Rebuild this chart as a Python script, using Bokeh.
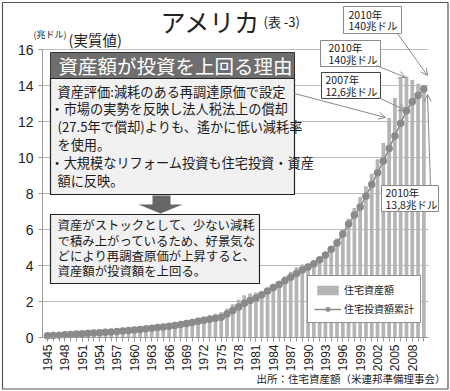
import math
from bokeh.plotting import figure
from bokeh.models import (Range1d, FixedTicker, LinearAxis, Arrow, OpenHead,
                          Legend, LegendItem)
from bokeh.core.properties import value
from bokeh.embed import file_html
from bokeh.resources import INLINE

# ---------------- data ----------------
years = list(range(1945, 2011))
asset = [0.17, 0.19, 0.21, 0.23, 0.25, 0.27, 0.29, 0.31, 0.33, 0.35,
         0.38, 0.41, 0.44, 0.47, 0.50, 0.53, 0.56, 0.60, 0.64, 0.68,
         0.72, 0.77, 0.82, 0.88, 0.94, 1.00, 1.07, 1.15, 1.24, 1.32,
         1.40, 1.60, 1.85, 2.10, 2.35, 2.45, 2.50, 2.55, 2.70, 2.90,
         3.15, 3.40, 3.65, 3.90, 4.05, 4.10, 4.15, 4.35, 4.65, 5.00,
         5.50, 6.00, 6.60, 7.20, 7.80, 8.40, 9.10, 9.90, 10.80, 12.20,
         13.30, 14.40, 14.50, 14.30, 14.10, 14.00]
invest = [0.10, 0.11, 0.13, 0.15, 0.17, 0.19, 0.21, 0.23, 0.25, 0.27,
          0.29, 0.31, 0.33, 0.36, 0.39, 0.42, 0.45, 0.48, 0.51, 0.55,
          0.59, 0.63, 0.67, 0.72, 0.78, 0.84, 0.90, 0.96, 1.02, 1.07,
          1.12, 1.30, 1.50, 1.70, 1.90, 2.05, 2.20, 2.38, 2.58, 2.78,
          2.95, 3.15, 3.35, 3.55, 3.75, 3.92, 4.10, 4.32, 4.58, 4.90,
          5.25, 5.75, 6.30, 6.80, 7.25, 7.85, 8.50, 9.15, 9.80, 10.50,
          11.20, 11.90, 12.60, 13.10, 13.45, 13.80]
y_ticks = [0, 2, 4, 6, 8, 10, 12, 14, 16]
x_tick_years = list(range(1945, 2009, 3))

series_names = ["住宅資産額", "住宅投資額累計"]
title_text = "アメリカ"
title_sub = "(表 -3)"
unit_small = "(兆ドル)"
unit_big = "(実質値)"
header_text = "資産額が投資を上回る理由"
box1_lines = ["資産評価:減耗のある再調達原価で設定",
              "・市場の実勢を反映し法人税法上の償却",
              "(27.5年で償却)よりも、遙かに低い減耗率",
              "を使用。",
              "・大規模なリフォーム投資も住宅投資・資産",
              "額に反映。"]
box3_lines = ["資産がストックとして、少ない減耗",
              "で積み上がっているため、好景気な",
              "どにより再調査原価が上昇すると、",
              "資産額が投資額を上回る。"]
note_a = ["2010年", "140兆ドル"]
note_b = ["2010年", "140兆ドル"]
note_c = ["2007年", "12,6兆ドル"]
note_d = ["2010年", "13,8兆ドル"]
source_text = "出所：住宅資産額（米連邦準備理事会）"

# ---------------- geometry ----------------
W, H = 450, 391
PX0, PPY = 47.0, 5.79     # pixel of 1945, px per year
PY0, PPV = 337.0, 18.0    # pixel of 0, px per unit


def dx(rx):
    return 1945 + (rx - PX0) / PPY


def dy(ry):
    return (PY0 - ry) / PPV


def fs(px):
    return value("%.1fpx" % px)


JP = value("Noto Sans CJK JP")

p = figure(width=W, height=H, x_range=Range1d(dx(0), dx(W)),
           y_range=Range1d(dy(H), dy(0)), min_border=0,
           x_axis_type=None, y_axis_type=None,
           output_backend="svg", toolbar_location=None)
p.outline_line_color = None
p.background_fill_color = "white"
p.border_fill_color = "white"

# grid lines
p.segment(x0=dx(42), x1=dx(428), y0=y_ticks[1:], y1=y_ticks[1:],
          line_color="#bcbcbc", line_width=1)

# axes
yax = LinearAxis(fixed_location=dx(42), bounds=(0, 16),
                 ticker=FixedTicker(ticks=y_ticks, minor_ticks=[]))
yax.axis_line_color = "#999999"
yax.major_tick_line_color = "#999999"
yax.major_tick_out = 4
yax.major_tick_in = 0
yax.minor_tick_out = 0
yax.major_label_text_font = "Liberation Sans"
yax.major_label_text_font_size = "14px"
yax.major_label_text_color = "#222222"
yax.major_label_standoff = 5
p.add_layout(yax, "left")

xax = LinearAxis(fixed_location=0, bounds=(dx(42), dx(428)),
                 ticker=FixedTicker(ticks=x_tick_years, minor_ticks=years))
xax.axis_line_color = "#999999"
xax.major_tick_line_color = "#999999"
xax.minor_tick_line_color = "#999999"
xax.major_tick_out = 4
xax.major_tick_in = 0
xax.minor_tick_out = 4
xax.minor_tick_in = 0
xax.major_label_orientation = math.pi / 2
xax.major_label_text_font = "Liberation Sans"
xax.major_label_text_font_size = "12px"
xax.major_label_text_color = "#222222"
xax.major_label_standoff = 3
p.add_layout(xax, "below")

# data marks
bars = p.vbar(x=years, top=asset, width=0.64, fill_color="#b5b5b5",
              line_color=None)
ln = p.line(years, invest, line_color="#8a8a8a", line_width=1.5)
dots = p.scatter(years, invest, size=7.5, fill_color="#8a8a8a", line_color=None)

# outer frame
p.quad(left=dx(2), right=dx(447.5), top=dy(2), bottom=dy(388.5),
       fill_alpha=0, line_color="#555555", line_width=1.2)

# titles
p.text(x=[dx(160)], y=[dy(20)], text=[title_text], text_font=JP,
       text_font_size=fs(25), text_baseline="middle", text_color="#222222")
p.text(x=[dx(263)], y=[dy(21)], text=[title_sub], text_font=JP,
       text_font_size=fs(13), text_baseline="middle", text_color="#222222")
p.text(x=[dx(33)], y=[dy(34)], text=[unit_small], text_font=JP,
       text_font_size=fs(9), text_baseline="middle", text_color="#222222")
p.text(x=[dx(68)], y=[dy(39)], text=[unit_big], text_font=JP,
       text_font_size=fs(14.5), text_baseline="middle", text_color="#222222")

# explanation boxes
p.quad(left=dx(50), right=dx(294), top=dy(52), bottom=dy(78),
       fill_color="#6e6e6e", line_color="#333333", line_width=1)
p.quad(left=dx(50), right=dx(294), top=dy(78), bottom=dy(194),
       fill_color="#f1f1f1", line_color="#222222", line_width=1.2)
p.quad(left=dx(50), right=dx(259), top=dy(214), bottom=dy(283),
       fill_color="#f1f1f1", line_color="#222222", line_width=1.2)
p.text(x=[dx(58)], y=[dy(65)], text=[header_text], text_font=JP,
       text_font_size=fs(19.5), text_baseline="middle", text_color="white")

b1_y = [91, 108, 126, 144, 162, 180]
b1_x = [57 if not t.startswith("・") else 50 for t in box1_lines]
p.text(x=[dx(v) for v in b1_x], y=[dy(v) for v in b1_y], text=box1_lines,
       text_font=JP, text_font_size=fs(13.2), text_baseline="middle",
       text_color="#1a1a1a")
b3_y = [224, 240, 255, 270]
p.text(x=[dx(57)] * 4, y=[dy(v) for v in b3_y], text=box3_lines,
       text_font=JP, text_font_size=fs(12.4), text_baseline="middle",
       text_color="#1a1a1a")

# down arrow
ax_ = [152, 170, 170, 182, 160, 138, 152]
ay_ = [195, 195, 204, 204, 213, 204, 204]
p.patch(x=[dx(v) for v in ax_], y=[dy(v) for v in ay_], fill_color="#666666",
        line_color=None)

# note boxes
notes = [(note_a, (343, 6, 401, 33), 348, "#8a8a8a"),
         (note_b, (320, 40, 380, 66), 328, "#8a8a8a"),
         (note_c, (321, 72, 380, 98), 325, "#444444"),
         (note_d, (381, 185, 438, 211), 385, "#8a8a8a")]
for lines, (l, t, r, b), tx, lc in notes:
    p.quad(left=dx(l), right=dx(r), top=dy(t), bottom=dy(b),
           fill_color="white", line_color=lc, line_width=1)
    mid = (t + b) / 2.0
    p.text(x=[dx(tx), dx(tx)], y=[dy(mid - 6), dy(mid + 5.5)], text=lines,
           text_font=JP, text_font_size=fs(10.5), text_baseline="middle",
           text_color="#1a1a1a")

# leader arrows
leaders = [((294, 93), (385, 117)),
           ((378, 97), (405, 110)),
           ((376, 65), (405, 77)),
           ((397, 33), (427, 75)),
           ((430, 185), (427, 94))]
for (x0, y0), (x1, y1) in leaders:
    p.add_layout(Arrow(end=OpenHead(size=7, line_color="#888888", line_width=1),
                       x_start=dx(x0), y_start=dy(y0), x_end=dx(x1), y_end=dy(y1),
                       line_color="#888888", line_width=1))

# source
p.text(x=[dx(445)], y=[dy(378)], text=[source_text], text_font=JP,
       text_font_size=fs(10.5), text_baseline="middle", text_align="right",
       text_color="#1a1a1a")

# legend
legend = Legend(items=[LegendItem(label=series_names[0], renderers=[bars]),
                       LegendItem(label=series_names[1], renderers=[ln, dots])],
                location=(307, H - 323))
legend.border_line_color = "#222222"
legend.border_line_width = 1.5
legend.background_fill_color = "white"
legend.background_fill_alpha = 1
legend.padding = 6
legend.spacing = 4
legend.margin = 0
legend.glyph_width = 27
legend.glyph_height = 12
legend.label_height = 12
legend.label_standoff = 3
legend.label_text_font = "Noto Sans CJK JP"
legend.label_text_font_size = "10px"
legend.label_text_color = "#1a1a1a"
p.add_layout(legend)

open("out.html", "w").write(file_html(p, INLINE))
